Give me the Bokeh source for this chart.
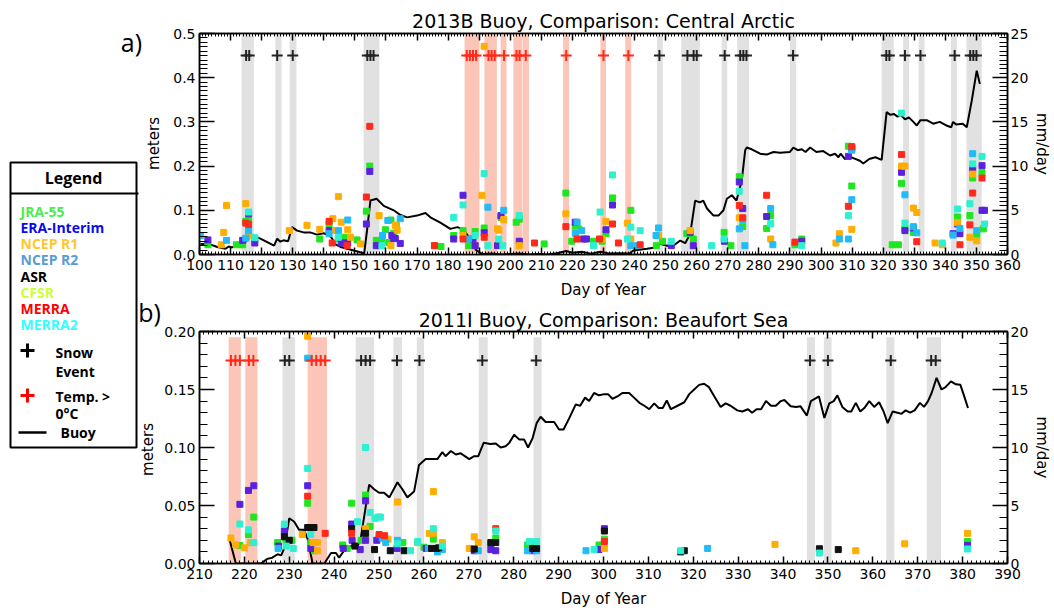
import math
from bokeh.plotting import figure
from bokeh.layouts import row, column
from bokeh.models import Range1d, LinearAxis, SingleIntervalTicker, NumeralTickFormatter
from bokeh.embed import file_html
from bokeh.resources import INLINE
from bokeh.core.properties import value

AX_FONT = "DejaVu Sans"
LEG_FONT = "Open Sans"

# ---------------------------------------------------------------- products
PRODUCTS = ["JRA-55", "ERA-Interim", "NCEP R1", "NCEP R2", "ASR", "CFSR", "MERRA", "MERRA2"]
MARK_COLORS = ["#20e620", "#5a22dc", "#ffad00", "#22bbf5", "#111111", "#c8e632", "#ff2a1a", "#2ef0d0"]
LEGEND_COLORS = ["#4ced4c", "#0b0bea", "#ffc72c", "#5b9bd5", "#000000", "#ccff33", "#ff0000", "#33ffff"]

# ---------------------------------------------------------------- panel a: 2013B, Central Arctic
# snowfall events, (day of year, meters)
A_JRA55 = [(102.7, 0.022), (111.9, 0.022), (113.9, 0.022), (114.9, 0.075), (115.8, 0.077), (117.8, 0.033),
           (138.7, 0.035), (141.7, 0.068), (144.7, 0.035), (145.6, 0.039), (147.5, 0.039), (150.7, 0.033),
           (153.7, 0.098), (154.8, 0.200), (156.9, 0.032), (158.7, 0.032), (159.8, 0.056), (160.9, 0.027),
           (161.6, 0.078), (162.5, 0.048), (163.3, 0.066), (175.6, 0.020), (177.7, 0.018), (181.8, 0.043),
           (184.8, 0.054), (186.6, 0.020), (188.7, 0.052), (191.6, 0.060), (197.0, 0.084), (201.9, 0.073),
           (202.9, 0.080), (210.9, 0.024), (217.9, 0.139), (219.8, 0.030), (220.9, 0.062), (222.0, 0.058),
           (226.8, 0.030), (229.5, 0.030), (230.8, 0.047), (232.9, 0.128), (238.8, 0.100), (247.0, 0.020),
           (249.0, 0.030), (256.8, 0.047), (258.9, 0.035), (268.8, 0.050), (271.0, 0.020), (273.7, 0.176),
           (274.8, 0.063), (282.5, 0.059), (283.8, 0.088), (291.6, 0.022), (293.8, 0.035), (308.8, 0.245),
           (309.9, 0.155), (322.9, 0.022), (324.9, 0.022), (325.9, 0.161), (327.0, 0.058), (329.7, 0.050),
           (343.9, 0.085), (347.9, 0.088), (348.8, 0.173), (350.1, 0.043), (351.8, 0.185), (352.2, 0.058)]
A_ERA = [(102.7, 0.033), (113.9, 0.032), (115.8, 0.092), (117.8, 0.026), (141.7, 0.054), (145.6, 0.026),
         (146.5, 0.026), (147.7, 0.026), (153.7, 0.069), (154.8, 0.188), (156.9, 0.020), (161.9, 0.043),
         (162.5, 0.036), (163.0, 0.036), (164.6, 0.025), (181.8, 0.035), (184.8, 0.134), (188.0, 0.035),
         (188.7, 0.020), (191.6, 0.049), (195.9, 0.020), (197.0, 0.088), (202.9, 0.030), (220.9, 0.073),
         (223.5, 0.035), (224.5, 0.035), (230.8, 0.056), (232.9, 0.112), (251.8, 0.020), (257.9, 0.050),
         (258.9, 0.020), (268.9, 0.030), (273.7, 0.164), (274.8, 0.104), (282.5, 0.086), (293.8, 0.030),
         (308.8, 0.222), (309.9, 0.240), (325.9, 0.186), (327.0, 0.054), (329.7, 0.060), (342.5, 0.047),
         (343.9, 0.069), (344.7, 0.047), (348.8, 0.194), (351.8, 0.201), (351.8, 0.100), (352.6, 0.100)]
A_NCEP1 = [(107.0, 0.022), (107.8, 0.050), (108.7, 0.111), (114.9, 0.115), (115.8, 0.043), (128.9, 0.054),
           (134.6, 0.066), (138.7, 0.057), (142.9, 0.081), (143.7, 0.054), (144.7, 0.131), (145.6, 0.073),
           (147.7, 0.056), (148.6, 0.039), (151.8, 0.024), (157.8, 0.088), (161.6, 0.020), (163.0, 0.066),
           (163.6, 0.055), (184.8, 0.043), (190.9, 0.134), (191.6, 0.471), (195.9, 0.058), (196.3, 0.055),
           (197.9, 0.079), (202.9, 0.020), (217.9, 0.092), (220.9, 0.050), (229.5, 0.035), (230.8, 0.075),
           (237.7, 0.071), (238.8, 0.035), (247.7, 0.043), (257.9, 0.054), (273.7, 0.083), (283.8, 0.035),
           (304.8, 0.026), (305.9, 0.047), (309.9, 0.057), (325.9, 0.200), (327.0, 0.200), (329.7, 0.105),
           (330.8, 0.095), (336.7, 0.026), (339.0, 0.022), (343.9, 0.072), (347.9, 0.039), (348.8, 0.182),
           (350.1, 0.031)]
A_NCEP2 = [(100.3, 0.043), (108.7, 0.032), (114.9, 0.037), (115.8, 0.054), (141.7, 0.047), (144.7, 0.054),
           (147.7, 0.078), (158.9, 0.043), (160.6, 0.077), (164.6, 0.081), (186.6, 0.035), (192.8, 0.107),
           (197.9, 0.100), (221.5, 0.073), (221.0, 0.048), (223.0, 0.054), (238.8, 0.020), (240.9, 0.020),
           (246.9, 0.043), (247.7, 0.060), (273.7, 0.058), (274.8, 0.079), (275.5, 0.020), (283.8, 0.104),
           (284.5, 0.022), (305.9, 0.035), (308.8, 0.035), (309.9, 0.124), (309.9, 0.236), (327.0, 0.135),
           (329.7, 0.063), (330.8, 0.049), (342.5, 0.044), (344.7, 0.059), (348.8, 0.228), (350.1, 0.054)]
A_ASR = []
A_CFSR = []
A_MERRA = [(114.9, 0.071), (115.8, 0.068), (141.7, 0.075), (142.7, 0.026), (147.5, 0.020), (153.7, 0.130),
           (154.8, 0.290), (175.6, 0.020), (184.8, 0.035), (191.6, 0.039), (207.8, 0.026), (217.9, 0.063),
           (221.5, 0.035), (228.7, 0.035), (232.9, 0.069), (234.8, 0.026), (241.8, 0.022), (273.7, 0.111),
           (274.8, 0.083), (282.5, 0.134), (291.6, 0.028), (308.8, 0.109), (309.9, 0.244), (325.9, 0.226),
           (330.8, 0.029), (344.7, 0.022), (347.9, 0.067), (348.8, 0.139), (351.8, 0.173)]
A_MERRA2 = [(115.8, 0.096), (117.8, 0.038), (144.7, 0.039), (158.7, 0.020), (181.8, 0.084), (184.8, 0.112),
            (188.7, 0.043), (191.6, 0.183), (192.8, 0.020), (196.3, 0.035), (197.6, 0.020), (202.9, 0.088),
            (226.8, 0.020), (228.9, 0.096), (232.9, 0.180), (237.7, 0.035), (238.8, 0.062), (241.8, 0.054),
            (251.8, 0.030), (264.8, 0.020), (268.8, 0.035), (273.7, 0.143), (283.8, 0.070), (293.8, 0.020),
            (308.8, 0.088), (325.9, 0.320), (327.0, 0.071), (339.0, 0.026), (343.9, 0.103), (347.9, 0.115),
            (348.8, 0.205), (351.8, 0.222), (352.6, 0.069)]

# buoy accumulation rate, (day of year, mm/day)
A_BUOY = [(100.3, 1.2), (103, 1.2), (105.7, 0.85), (108.4, 0.65), (109.4, 0.9), (110.5, 0.8), (112, 1.0),
          (113.5, 0.9), (115.3, 1.65), (117, 2.15), (119.6, 1.8), (121.8, 1.4), (124, 1.0), (125, 1.8),
          (126, 1.45), (127, 1.6), (128.5, 1.5), (129.8, 3.1), (131.4, 2.7), (133.5, 2.5), (135.6, 2.5),
          (137.8, 2.25), (140, 2.4), (142, 2.1), (142.7, 1.8), (143.5, 1.2), (145.4, 0.85), (147.5, 0.65),
          (149.6, 0.45), (151.8, 0.25), (153, 0.15), (153.9, 2.7), (155, 6.1), (157, 6.3), (159.3, 5.5),
          (162.5, 5.0), (164.5, 4.5), (166.8, 4.2), (170, 4.4), (172.7, 4.7), (174.3, 4.2), (177.5, 3.6),
          (180.7, 2.9), (183, 3.1), (185, 2.8), (187, 1.8), (189, 0.5), (191, 0.05), (194, 0.1), (197, 0.0),
          (200, 0.05), (203, 0.1), (206, 0.0), (209, 0.05), (212, 0.0), (215, 0.15), (218, 0.4), (220, 0.2),
          (223, 0.3), (226, 0.1), (229, 0.3), (232, 0.1), (235, 0.15), (238.3, 0.1), (239.6, 0.45),
          (244, 0.64), (247.2, 0.83), (248.2, 1.2), (250.4, 1.0), (252.5, 1.0), (254.7, 1.58), (256.3, 1.28),
          (257.9, 2.34), (259.5, 6.1), (261, 5.9), (262.1, 6.1), (263.3, 5.2), (265.4, 4.4), (267, 4.4),
          (268.6, 5.0), (269.7, 6.3), (271.3, 6.7), (272.8, 6.1), (274.5, 8.4), (275.6, 11.8), (276.1, 12.1),
          (277.7, 11.9), (280.4, 11.4), (282.5, 11.3), (284.7, 11.6), (286.8, 11.5), (290, 11.6),
          (291.1, 12.1), (292.5, 11.8), (293.8, 11.9), (295, 11.6), (296.5, 12.1), (298.5, 11.6),
          (300.7, 11.7), (302.9, 11.2), (304.5, 11.4), (305.6, 11.0), (306.3, 11.4), (307.7, 10.8),
          (309, 11.1), (310.4, 10.9), (312.5, 10.6), (313.6, 10.3), (315.5, 10.8), (317.5, 11.0),
          (319.5, 10.7), (321.1, 16.1), (322.3, 15.8), (323.5, 15.9), (324.6, 15.6), (325.6, 15.8),
          (327, 15.3), (328.3, 15.5), (329.7, 15.0), (330.8, 14.6), (332, 15.2), (334, 15.2), (336.1, 14.8),
          (338.2, 15.0), (340.3, 14.6), (341.9, 14.4), (342.5, 15.0), (343.5, 14.7), (345.6, 14.8),
          (346.9, 14.4), (348.5, 17.4), (350.1, 20.8), (351.1, 19.3)]

A_SNOW_DAYS = [115, 116, 125, 130, 154, 155, 156, 248, 257, 259, 260, 269, 274, 275, 276,
               291, 321, 322, 327, 332, 343, 348, 349, 350]
A_MELT_DAYS = [186, 187, 188, 189, 193, 194, 195, 198, 202, 203, 205, 218, 230, 238]
A_SNOW_SPANS = [(113.5, 117.5), (124.4, 126.4), (129.0, 131.2), (152.8, 157.9), (247.2, 249.1), (255.0, 261.0),
                (268.0, 269.8), (273.0, 276.8), (290.0, 292.0), (319.5, 323.4), (326.4, 328.3), (331.4, 333.3),
                (341.8, 343.7), (346.8, 351.7)]
A_MELT_SPANS = [(185.3, 190.1), (191.7, 195.7), (196.9, 198.8), (201.0, 203.9), (204.0, 206.0), (217.0, 218.9),
                (229.0, 230.8), (237.0, 238.9)]

# ---------------------------------------------------------------- panel b: 2011I, Beaufort Sea
B_JRA55 = [(219.0, 0.0155), (220.9, 0.025), (222.1, 0.040), (227.4, 0.018), (229.3, 0.019), (230.6, 0.020),
           (234.1, 0.052), (234.8, 0.018), (235.6, 0.011), (241.9, 0.016), (242.9, 0.013), (243.9, 0.052),
           (246.0, 0.020), (247.0, 0.059), (248.0, 0.032), (250.0, 0.022), (251.5, 0.021), (255.3, 0.018),
           (260.0, 0.014), (262.1, 0.021), (274.9, 0.016), (276.0, 0.022), (283.1, 0.016), (284.3, 0.018),
           (299.0, 0.016), (300.2, 0.021), (381.1, 0.019)]
B_ERA = [(219.0, 0.051), (220.9, 0.063), (222.1, 0.067), (227.6, 0.015), (228.9, 0.028), (234.1, 0.067),
         (234.8, 0.013), (242.0, 0.013), (243.9, 0.034), (244.0, 0.020), (245.8, 0.012), (247.0, 0.054),
         (247.0, 0.020), (249.5, 0.020), (254.0, 0.013), (260.5, 0.013), (271.2, 0.011), (274.9, 0.012),
         (276.0, 0.011), (284.2, 0.011), (299.0, 0.012), (300.2, 0.030), (381.1, 0.0155)]
B_NCEP1 = [(217.0, 0.022), (218.1, 0.016), (220.0, 0.0135), (221.4, 0.018), (232.9, 0.025), (234.1, 0.196),
           (235.3, 0.018), (236.3, 0.011), (236.3, 0.018), (247.0, 0.030), (252.0, 0.021), (254.1, 0.053),
           (258.6, 0.018), (261.2, 0.026), (262.1, 0.062), (262.1, 0.026), (264.1, 0.018), (270.1, 0.013),
           (271.2, 0.023), (272.1, 0.018), (300.2, 0.013), (338.2, 0.0165), (356.2, 0.011), (367.1, 0.017),
           (381.1, 0.026)]
B_NCEP2 = [(227.5, 0.013), (234.1, 0.177), (250.7, 0.022), (251.5, 0.018), (254.1, 0.020), (261.0, 0.013),
           (263.0, 0.010), (264.1, 0.012), (272.1, 0.011), (283.1, 0.011), (285.1, 0.011), (296.1, 0.011),
           (323.2, 0.013)]
B_ASR = [(228.9, 0.023), (230.0, 0.020), (234.1, 0.031), (234.8, 0.031), (235.5, 0.031), (243.9, 0.030),
         (244.6, 0.015), (247.0, 0.026), (249.0, 0.012), (252.5, 0.011), (255.6, 0.011), (261.7, 0.013),
         (262.8, 0.013), (263.3, 0.0135), (271.2, 0.0125), (274.9, 0.018), (276.0, 0.018), (284.2, 0.013),
         (285.1, 0.013), (300.2, 0.028), (317.2, 0.010), (318.0, 0.011), (348.1, 0.0127), (352.3, 0.012)]
B_CFSR = []
B_MERRA = [(234.1, 0.058), (238.0, 0.026), (243.9, 0.026), (250.0, 0.025), (251.2, 0.024), (276.0, 0.030),
           (300.2, 0.019)]
B_MERRA2 = [(219.0, 0.034), (220.9, 0.029), (222.1, 0.018), (228.9, 0.034), (229.3, 0.015), (230.9, 0.013),
            (234.1, 0.082), (234.8, 0.025), (245.2, 0.036), (247.0, 0.100), (248.0, 0.044), (249.1, 0.039),
            (249.8, 0.040), (250.3, 0.040), (254.1, 0.017), (257.0, 0.011), (258.6, 0.019), (262.1, 0.030),
            (264.1, 0.015), (276.0, 0.028), (283.5, 0.019), (285.1, 0.019), (297.9, 0.012), (317.2, 0.011),
            (348.1, 0.009), (381.1, 0.0125)]

B_BUOY = [(216.6, 2.2), (218.1, 0.0), (221, 0.0), (223.7, 0.0), (225.1, 0.4), (226.2, 0.5), (227.4, 0.8),
          (228.2, 0.7), (228.9, 1.35), (230, 3.9), (231.1, 3.6), (232.2, 2.9), (233.3, 2.9), (234.1, 2.1),
          (235.2, 0.0), (236.5, 0.0), (237.8, 0.0), (239.3, 0.9), (240.4, 0.9), (241.1, 0.5), (242.2, 1.1),
          (243.7, 1.5), (245.2, 1.5), (245.9, 2.1), (247.8, 6.8), (248.9, 6.4), (250, 6.1), (251.1, 6.1),
          (252.3, 5.7), (254.1, 7.0), (255.2, 6.4), (256.3, 5.7), (257.8, 6.2), (258.9, 8.5), (260.4, 9.0),
          (263, 9.0), (264.1, 9.6), (264.8, 9.25), (266, 9.7), (267.1, 9.4), (268.2, 9.5), (270.1, 9.0),
          (271.2, 9.25), (272.1, 9.25), (273.3, 10.4), (274.8, 10.3), (276, 10.35), (277.1, 10.0),
          (278.2, 10.1), (279, 10.4), (280.1, 11.1), (281.2, 10.7), (282.3, 10.7), (283.2, 10.0),
          (284.2, 10.8), (285.1, 12.1), (286, 12.65), (287.1, 12.2), (289, 12.2), (290.1, 11.55),
          (291.1, 11.55), (292.4, 12.55), (293.8, 13.7), (294.8, 13.6), (295.9, 14.3), (296.8, 14.0),
          (297.9, 14.7), (299, 14.5), (300.2, 14.6), (301, 14.6), (302, 14.2), (303.1, 14.4), (304.2, 14.7),
          (305.7, 14.7), (306.8, 14.3), (308, 13.85), (309.1, 13.6), (310.2, 13.3), (311.3, 13.8),
          (312.3, 13.4), (313.2, 13.4), (314.1, 14.05), (315, 13.3), (316.5, 13.6), (318, 13.9),
          (319.1, 14.6), (320.2, 15.0), (321.3, 15.4), (322.4, 15.5), (323.5, 15.2), (324.7, 14.4),
          (326.1, 13.5), (327.2, 13.8), (328.3, 13.6), (329.8, 13.2), (330.9, 13.1), (332.2, 13.3),
          (333.1, 13.0), (334.1, 13.3), (335.1, 13.3), (336.2, 14.0), (337.3, 13.6), (338.4, 13.6),
          (339.5, 14.0), (340.3, 14.1), (341.7, 13.55), (342.9, 13.5), (343.9, 13.55), (345.3, 12.75),
          (346.2, 14.0), (348, 14.4), (349.2, 12.55), (350.3, 13.8), (351.3, 14.0), (352.1, 14.5),
          (353.2, 13.5), (354.4, 13.1), (355.2, 13.1), (356.2, 13.85), (357.2, 13.1), (358.1, 13.4),
          (359.2, 14.0), (360.3, 13.5), (361.4, 13.9), (362.4, 13.1), (363.3, 12.1), (364.4, 13.1),
          (365.5, 13.0), (366.4, 12.9), (367.3, 13.2), (368.3, 13.0), (369.3, 13.2), (370.5, 13.85),
          (371.4, 13.5), (372.3, 14.0), (373.1, 14.7), (374.2, 16.0), (375.3, 15.0), (376.2, 15.2),
          (377.4, 15.7), (378.5, 15.45), (379.5, 15.4), (380.2, 14.6), (381.2, 13.4)]

B_SNOW_DAYS = [229, 230, 246, 247, 248, 254, 259, 273, 285, 346, 350, 364, 373, 374]
B_MELT_DAYS = [217, 218, 219, 221, 222, 235, 236, 237, 238]
B_SNOW_SPANS = [(228.5, 231.3), (244.8, 248.9), (253.2, 255.1), (258.4, 260.0), (272.2, 274.2), (284.4, 286.2),
                (345.3, 347.1), (349.1, 350.8), (363.0, 364.8), (372.0, 375.2)]
B_MELT_SPANS = [(216.5, 219.2), (220.2, 222.9), (234.1, 238.4)]

LEFT_W = 161          # width of the legend column
PANEL_W = 1054 - LEFT_W


def style_axis(ax, major_in, minor_in, label_size="14px"):
    ax.major_tick_in = major_in
    ax.major_tick_out = 0
    ax.minor_tick_in = minor_in
    ax.minor_tick_out = 0
    ax.axis_line_width = 1.5
    ax.axis_line_color = "black"
    ax.major_tick_line_width = 1.5
    ax.minor_tick_line_width = 1
    ax.major_tick_line_color = "black"
    ax.minor_tick_line_color = "black"
    ax.major_label_text_font = AX_FONT
    ax.major_label_text_font_size = label_size
    ax.major_label_text_color = "black"
    ax.axis_label_text_font = AX_FONT
    ax.axis_label_text_font_size = "15px"
    ax.axis_label_text_font_style = "normal"
    ax.axis_label_text_color = "black"


def make_panel(cfg):
    p = figure(width=PANEL_W, height=cfg["height"], x_range=Range1d(*cfg["xr"]), y_range=Range1d(*cfg["yr"]),
               toolbar_location=None, output_backend="svg", x_axis_location=None, y_axis_location=None,
               min_border_left=cfg["mb"][0], min_border_right=cfg["mb"][1],
               min_border_top=cfg["mb"][2], min_border_bottom=cfg["mb"][3], title=cfg["title"])
    p.title.align = "center"
    p.title.text_font = AX_FONT
    p.title.text_font_size = "19px"
    p.title.text_font_style = "normal"
    p.title.text_color = "black"
    p.title.standoff = cfg["tstand"]
    p.grid.grid_line_color = None
    p.outline_line_color = "black"
    p.outline_line_width = 1.5
    p.background_fill_color = "white"
    p.border_fill_color = "white"
    p.extra_y_ranges = {"mm": Range1d(*cfg["yr2"])}

    bottom = LinearAxis(ticker=SingleIntervalTicker(interval=10, num_minor_ticks=10), axis_label="Day of Year",
                        major_label_standoff=5, axis_label_standoff=cfg["xstand"])
    style_axis(bottom, 7, 3)
    p.add_layout(bottom, "below")
    top = LinearAxis(ticker=SingleIntervalTicker(interval=10, num_minor_ticks=10), major_label_standoff=0)
    style_axis(top, 7, 3, label_size="0px")
    top.major_label_text_alpha = 0
    p.add_layout(top, "above")

    left = LinearAxis(ticker=SingleIntervalTicker(interval=cfg["ystep"], num_minor_ticks=cfg["yminor"]),
                      formatter=NumeralTickFormatter(format=cfg["yfmt"]), major_label_standoff=4)
    style_axis(left, 15, 8)
    p.add_layout(left, "left")
    right = LinearAxis(y_range_name="mm", ticker=SingleIntervalTicker(interval=5, num_minor_ticks=cfg["y2minor"]),
                       axis_label="mm/day", major_label_standoff=3, axis_label_standoff=2)
    style_axis(right, 15, 8)
    p.add_layout(right, "right")

    # event periods
    for spans, col in ((cfg["snow_spans"], "#e1e1e1"), (cfg["melt_spans"], "#fbc5b8")):
        p.quad(left=[s[0] for s in spans], right=[s[1] for s in spans],
               bottom=cfg["yr"][0] - 0.05, top=cfg["band_top"], fill_color=col, line_color=None)

    # buoy record
    p.line([d for d, _ in cfg["buoy"]], [v for _, v in cfg["buoy"]], y_range_name="mm",
           line_color="black", line_width=2)

    # reanalysis snowfall
    for series, col in zip(cfg["series"], MARK_COLORS):
        if series:
            p.scatter([d for d, _ in series], [v for _, v in series], marker="square", size=6,
                      fill_color=col, line_color=col, line_width=1)

    # event markers
    p.scatter(cfg["snow_days"], [cfg["mark_y"]] * len(cfg["snow_days"]), marker="cross", size=11,
              line_width=2, line_color="#222222")
    p.scatter(cfg["melt_days"], [cfg["mark_y"]] * len(cfg["melt_days"]), marker="cross", size=11,
              line_width=2, line_color="#ff2a1a")
    return p


p1 = make_panel(dict(height=305, xr=(100, 360), yr=(0, 0.5), yr2=(0, 25), mb=(33, 44, 33, 51),
                     ystep=0.1, yminor=10, yfmt="0.0", y2minor=10, xstand=8, band_top=0.5, tstand=4,
                     snow_spans=A_SNOW_SPANS, melt_spans=A_MELT_SPANS, buoy=A_BUOY,
                     series=[A_JRA55, A_ERA, A_NCEP1, A_NCEP2, A_ASR, A_CFSR, A_MERRA, A_MERRA2],
                     snow_days=A_SNOW_DAYS, melt_days=A_MELT_DAYS, mark_y=0.45,
                     title="2013B Buoy, Comparison: Central Arctic"))
p2 = make_panel(dict(height=306, xr=(210, 390), yr=(0, 0.2), yr2=(0, 20), mb=(36, 44, 26, 48),
                     ystep=0.05, yminor=5, yfmt="0.00", y2minor=5, xstand=8, band_top=0.195, tstand=2,
                     snow_spans=B_SNOW_SPANS, melt_spans=B_MELT_SPANS, buoy=B_BUOY,
                     series=[B_JRA55, B_ERA, B_NCEP1, B_NCEP2, B_ASR, B_CFSR, B_MERRA, B_MERRA2],
                     snow_days=B_SNOW_DAYS, melt_days=B_MELT_DAYS, mark_y=0.175,
                     title="2011I Buoy, Comparison: Beaufort Sea"))

# ---------------------------------------------------------------- legend column (with panel tags)
leg = figure(width=LEFT_W, height=611, x_range=Range1d(0, LEFT_W), y_range=Range1d(611, 0),
             toolbar_location=None, output_backend="svg", x_axis_location=None, y_axis_location=None,
             min_border=0)
leg.grid.grid_line_color = None
leg.outline_line_color = None
leg.quad(left=10, right=136, top=162, bottom=447, fill_color="white", line_color="black", line_width=2)
leg.segment(x0=10, y0=193, x1=138, y1=193, line_color="black", line_width=2)
leg.text(x=73, y=177, text=["Legend"], text_font=value(LEG_FONT), text_font_style="bold",
         text_font_size="16px", text_align="center", text_baseline="middle", text_color="black")
leg.text(x=[20] * len(PRODUCTS), y=[211, 227, 243, 259, 276, 292, 308, 324], text=PRODUCTS,
         text_color=LEGEND_COLORS, text_font=value(LEG_FONT), text_font_style="bold",
         text_font_size="14px", text_baseline="middle")
leg.scatter(x=[27], y=[350], marker="cross", size=14, line_width=3, line_color="black")
leg.scatter(x=[27], y=[395], marker="cross", size=14, line_width=3, line_color="#ff0000")
leg.segment(x0=18, y0=432, x1=46, y1=432, line_color="black", line_width=2.5)
leg.text(x=[55, 55, 55, 55, 60], y=[352, 371, 396, 413, 432], text=["Snow", "Event", "Temp. >", "0\u00b0C", "Buoy"],
         text_font=value(LEG_FONT), text_font_style="bold", text_font_size="14px", text_baseline="middle",
         text_color="black")
# panel tags and left axis titles
leg.text(x=[131, 149], y=[41, 311], text=["a)", "b)"], text_font=value(LEG_FONT), text_font_size="25px",
         text_align="center", text_baseline="middle", text_color="black")
leg.text(x=[153, 147], y=[143, 449], text=["meters", "meters"], angle=math.pi / 2, text_font=value(AX_FONT),
         text_font_size="15px", text_align="center", text_baseline="middle", text_color="black")

layout = row(leg, column(p1, p2))
open("out.html", "w").write(file_html(layout, INLINE))
